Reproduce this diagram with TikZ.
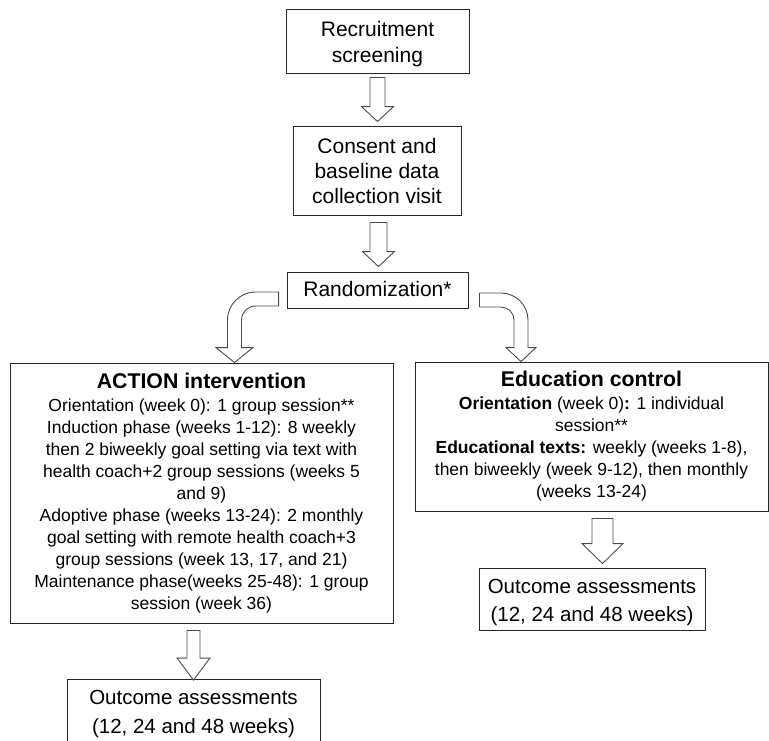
\documentclass[tikz,border=0pt]{standalone}
\usepackage{fontspec}
\setmainfont{Liberation Sans}
\usetikzlibrary{calc}

\begin{document}
\begin{tikzpicture}[
  x=1pt, y=1pt,
  box/.style={draw=black!85, line width=0.9pt, align=center, inner sep=0pt, font=\fontsize{21}{25}\selectfont},
  armbox/.style={box, font=\fontsize{17.5}{22}\selectfont},
  outbox/.style={box, minimum height=62pt, text depth=4pt, font=\fontsize{20.5}{28.4}\selectfont},
  hollow/.style={draw=black!70, line width=0.9pt, fill=white},
  % straight block arrow: shaft half width, head half width, head length, gap at start, gap at tip
  fat/.style n args={5}{hollow, to path={let \p1=(\tikztostart), \p2=(\tikztotarget) in
    (\x1-#1pt,\y1-#4pt) -- (\x1-#1pt,\y2+#5pt+#3pt) -- (\x1-#2pt,\y2+#5pt+#3pt) -- (\x1,\y2+#5pt)
    -- (\x1+#2pt,\y2+#5pt+#3pt) -- (\x1+#1pt,\y2+#5pt+#3pt) -- (\x1+#1pt,\y1-#4pt) -- cycle}},
  % bent block arrows: shaft half width, outer radius, head half width, head length
  lbend/.style n args={4}{hollow, to path={let \p1=(\tikztostart), \p2=(\tikztotarget) in
    (\x1,\y1+#1pt) -- (\x2-#1pt+#2pt,\y1+#1pt) arc[start angle=90, end angle=180, radius=#2pt]
    -- (\x2-#1pt,\y2+#4pt) -- (\x2-#3pt,\y2+#4pt) -- (\x2,\y2) -- (\x2+#3pt,\y2+#4pt) -- (\x2+#1pt,\y2+#4pt)
    -- (\x2+#1pt,\y1+#1pt-#2pt) arc[start angle=180, end angle=90, radius=#2pt-2*#1pt]
    -- (\x1,\y1-#1pt) -- cycle}},
  rbend/.style n args={4}{hollow, to path={let \p1=(\tikztostart), \p2=(\tikztotarget) in
    (\x1,\y1+#1pt) -- (\x2+#1pt-#2pt,\y1+#1pt) arc[start angle=90, end angle=0, radius=#2pt]
    -- (\x2+#1pt,\y2+#4pt) -- (\x2+#3pt,\y2+#4pt) -- (\x2,\y2) -- (\x2-#3pt,\y2+#4pt) -- (\x2-#1pt,\y2+#4pt)
    -- (\x2-#1pt,\y1+#1pt-#2pt) arc[start angle=0, end angle=90, radius=#2pt-2*#1pt]
    -- (\x1,\y1-#1pt) -- cycle}}
]

\useasboundingbox (0,0) rectangle (769,-740);
\clip (0,0) rectangle (769,-740);

% enrolment
\node[box, minimum width=183pt, minimum height=64pt, text height=47.4pt, text depth=4pt,
  font=\fontsize{21}{26.7}\selectfont] (rec) at (377.5,-41) {Recruitment\\screening};
\node[box, minimum width=168pt, minimum height=89pt, text height=69pt, text depth=4pt] (con) at (377,-170.5) {Consent and\\baseline data\\collection visit};
\node[box, minimum width=181pt, minimum height=36pt, text height=16pt, text depth=4pt] (rnd) at (377.5,-290) {Randomization*};

% arms
\node[armbox, minimum width=383pt, minimum height=260pt] (act) at (201.5,-493) {%
  {\fontsize{21.3}{25}\selectfont\bfseries ACTION intervention}\\[1pt]
  Orientation (week 0): 1 group session**\\
  Induction phase (weeks 1-12): 8 weekly\\
  then 2 biweekly goal setting via text with\\
  health coach+2 group sessions (weeks 5\\
  and 9)\\
  Adoptive phase (weeks 13-24): 2 monthly\\
  goal setting with remote health coach+3\\
  group sessions (week 13, 17, and 21)\\
  Maintenance phase(weeks 25-48): 1 group\\
  session (week 36)};
\node[armbox, minimum width=353pt, minimum height=149pt] (edu) at (591.5,-436.5) {%
  {\fontsize{21.3}{25}\selectfont\bfseries Education control}\\[1pt]
  \textbf{Orientation} (week 0)\textbf{:} 1 individual\\
  session**\\
  \textbf{Educational texts:} weekly (weeks 1-8),\\
  then biweekly (week 9-12), then monthly\\
  (weeks 13-24)};

% outcomes
\node[outbox, minimum width=253pt, text height=49pt] (outL) at (193.5,-710.5) {Outcome assessments\\(12, 24 and 48 weeks)};
\node[outbox, minimum width=226pt, text height=49.4pt] (outR) at (592,-599) {Outcome assessments\\(12, 24 and 48 weeks)};

% block arrows
\draw[fat={7.5}{16}{15}{4}{4}] (rec.south) to (con.north);
\draw[fat={8.5}{16}{15}{7}{5}] ([xshift=1.5pt]con.south) to (rnd.north);
\draw[lbend={7}{28}{18.5}{15}] ([xshift=-8pt,yshift=-9pt]rnd.west) to ([xshift=33pt]act.north);
\draw[rbend={7}{27}{15}{14}] ([xshift=11pt,yshift=-10pt]rnd.east) to ([xshift=-70.5pt]edu.north);
\draw[fat={6.5}{16.5}{22}{7}{-1}] (act.south -| outL.north) to (outL.north);
\draw[fat={10.5}{20.5}{20}{7}{4}] ([xshift=11pt]edu.south) to ([xshift=11pt]outR.north);

\end{tikzpicture}
\end{document}
